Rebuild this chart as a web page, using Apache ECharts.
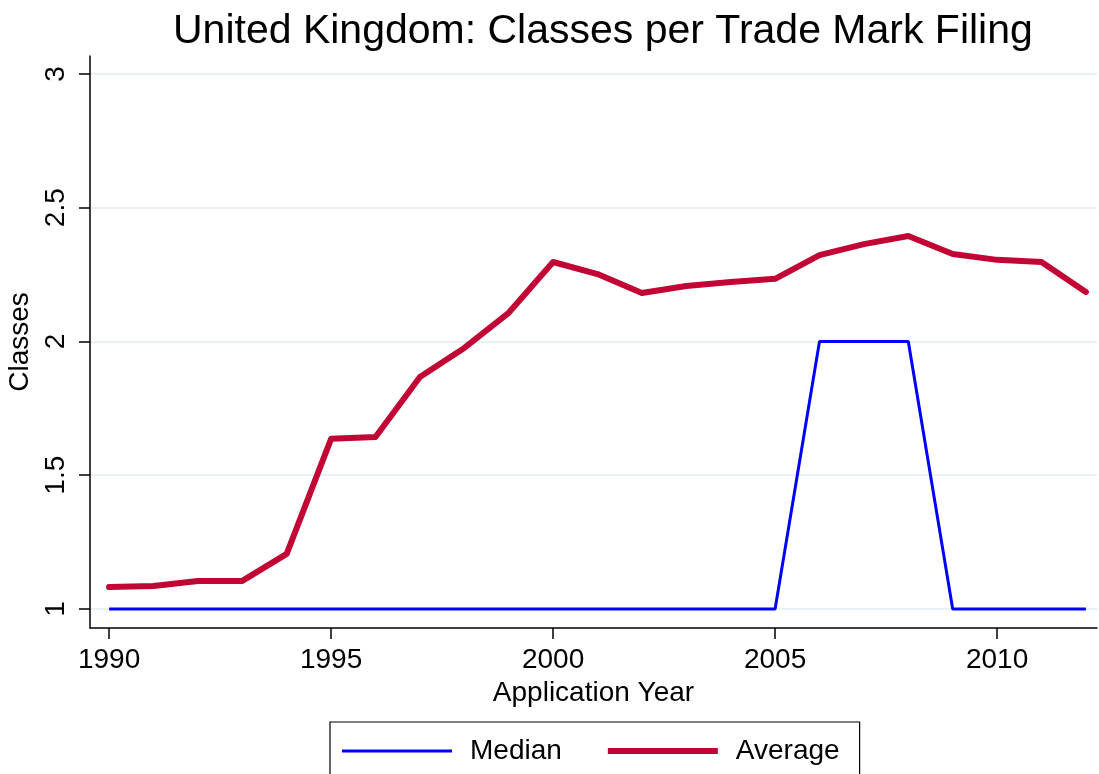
<!DOCTYPE html>
<html>
<head>
<meta charset="utf-8">
<script src="https://cdn.jsdelivr.net/npm/echarts@6/dist/echarts.min.js"></script>
<style>
  html, body { margin: 0; padding: 0; background: #fff; }
  #chart { width: 1099px; height: 774px; }
</style>
</head>
<body>
<div id="chart"></div>
<script>
// data
const years = [1990, 1991, 1992, 1993, 1994, 1995, 1996, 1997, 1998, 1999, 2000,
  2001, 2002, 2003, 2004, 2005, 2006, 2007, 2008, 2009, 2010, 2011, 2012];
const median = [1, 1, 1, 1, 1, 1, 1, 1, 1, 1, 1, 1, 1, 1, 1, 1, 2, 2, 2, 1, 1, 1, 1];
const average = [1.082, 1.086, 1.105, 1.105, 1.206, 1.636, 1.643, 1.867, 1.976, 2.107, 2.297,
  2.252, 2.181, 2.207, 2.222, 2.234, 2.323, 2.364, 2.394, 2.327, 2.305, 2.297, 2.185];
const xTicks = [1990, 1995, 2000, 2005, 2010];
const yTicks = [1, 1.5, 2, 2.5, 3];

const font = 'Liberation Sans, Arial, sans-serif';
const chart = echarts.init(document.getElementById('chart'));

const option = {
  animation: false,
  title: {
    text: 'United Kingdom: Classes per Trade Mark Filing',
    left: 168,
    top: 6,
    textStyle: { fontFamily: font, fontSize: 41, fontWeight: 'normal', color: '#000' }
  },
  legend: {
    top: 722,
    left: 330,
    itemWidth: 110,
    itemHeight: 6,
    itemGap: 46,
    padding: [15, 20, 30, 12],
    borderColor: '#000',
    borderWidth: 1.2,
    textStyle: { fontFamily: font, fontSize: 28, color: '#000', padding: [0, 0, 0, 13] },
    data: [
      { name: 'Median', icon: 'path://M0,0H110V3H0Z', itemStyle: { color: '#0000ff' } },
      { name: 'Average', icon: 'rect', itemStyle: { color: '#c10534' } }
    ]
  },
  grid: { left: 90, right: 2, top: 56, bottom: 146, outerBoundsMode: 'none', containLabel: false },
  xAxis: {
    type: 'value',
    min: 1989.57,
    max: 2012.25,
    name: 'Application Year',
    nameLocation: 'middle',
    nameGap: 50,
    nameTextStyle: { fontFamily: font, fontSize: 28, color: '#000' },
    axisLine: { lineStyle: { color: '#000', width: 1.5 } },
    axisTick: { show: true, length: 11, customValues: xTicks, lineStyle: { color: '#000', width: 1.5 } },
    axisLabel: {
      customValues: xTicks, fontFamily: font, fontSize: 28, color: '#000', margin: 18,
      formatter: v => String(v)
    },
    splitLine: { show: false }
  },
  yAxis: {
    type: 'value',
    min: 0.929,
    max: 3.067,
    name: 'Classes',
    nameLocation: 'middle',
    nameGap: 44,
    nameTextStyle: { fontFamily: font, fontSize: 28, color: '#000' },
    axisLine: { show: true, lineStyle: { color: '#000', width: 1.5 } },
    axisTick: { show: true, length: 11, customValues: yTicks, lineStyle: { color: '#000', width: 1.5 } },
    axisLabel: {
      customValues: yTicks, rotate: 90, fontFamily: font, fontSize: 28, color: '#000', margin: 20,
      formatter: v => String(v)
    },
    splitLine: { show: true, lineStyle: { color: '#e3ecf0', width: 1.5 } }
  },
  series: [
    {
      name: 'Median',
      type: 'line',
      data: years.map((y, i) => [y, median[i]]),
      showSymbol: false,
      lineStyle: { color: '#0000ff', width: 3 },
      itemStyle: { color: '#0000ff' }
    },
    {
      name: 'Average',
      type: 'line',
      data: years.map((y, i) => [y, average[i]]),
      showSymbol: false,
      lineStyle: { color: '#c10534', width: 6, cap: 'round', join: 'round' },
      itemStyle: { color: '#c10534' }
    }
  ]
};

chart.setOption(option);
</script>
</body>
</html>
